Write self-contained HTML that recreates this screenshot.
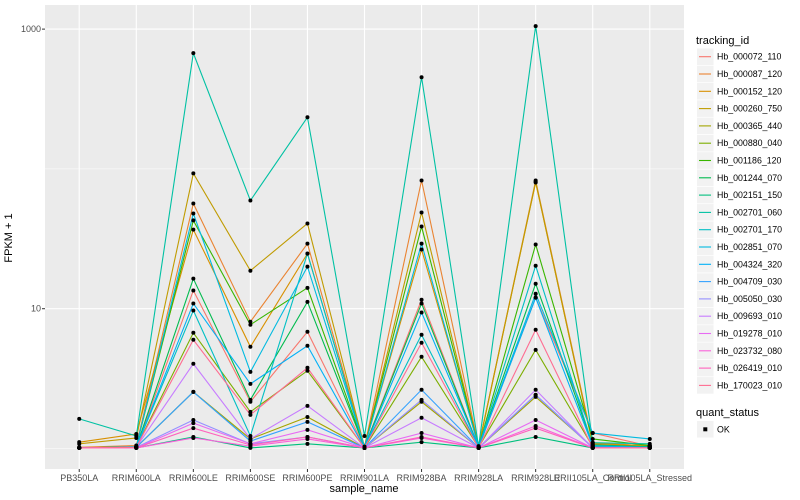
<!DOCTYPE html>
<html><head><meta charset="utf-8"><style>
body{margin:0;background:#fff;}
svg{display:block;font-family:"Liberation Sans",Arial,sans-serif;}
</style></head><body>
<svg id="chart" width="800" height="500" viewBox="0 0 800 500">
<rect x="45" y="5" width="639" height="464" fill="#EBEBEB"/>
<g id="grid"></g>
<g id="series"></g>
<g id="points"></g>
<g id="axes"></g>
<text x="12" y="238" transform="rotate(-90 12 238)" text-anchor="middle" font-size="11" fill="#000">FPKM + 1</text>
<text x="364" y="492" text-anchor="middle" font-size="11" fill="#000">sample_name</text>
<g id="legend"></g>
</svg>
<script>
const samples = ["PB350LA","RRIM600LA","RRIM600LE","RRIM600SE","RRIM600PE","RRIM901LA","RRIM928BA","RRIM928LA","RRIM928LE","RRII105LA_Control","RRII105LA_Stressed"];
const seriesNames = ["Hb_000072_110","Hb_000087_120","Hb_000152_120","Hb_000260_750","Hb_000365_440","Hb_000880_040","Hb_001186_120","Hb_001244_070","Hb_002151_150","Hb_002701_060","Hb_002701_170","Hb_002851_070","Hb_004324_320","Hb_004709_030","Hb_005050_030","Hb_009693_010","Hb_019278_010","Hb_023732_080","Hb_026419_010","Hb_170023_010"];
const seriesColors = ["#F8766D","#EA8331","#D89000","#C09B00","#A3A500","#7CAE00","#39B600","#00BB4E","#00BF7D","#00C1A3","#00BFC4","#00BAE0","#00B0F6","#35A2FF","#9590FF","#C77CFF","#E76BF3","#FA62DB","#FF62BC","#FF6C91"];
const s000072 = [1.01,1.02,13.5,2.16,6.84,1.02,11.6,1.02,12.0,1.29,1.04];
const s000087 = [1.02,1.05,56.6,8.07,29.2,1.03,82.7,1.03,82.7,1.10,1.04];
const s000152 = [1.11,1.27,36.8,5.34,24.8,1.03,26.5,1.04,80.0,1.08,1.05];
const s000260 = [1.08,1.19,92.9,18.7,40.7,1.02,48.8,1.02,81.0,1.06,1.03];
const s000365 = [1.01,1.02,2.54,1.17,1.68,1.01,2.16,1.01,2.34,1.02,1.01];
const s000880 = [1.01,1.02,6.73,1.83,3.60,1.01,4.53,1.02,5.08,1.03,1.02];
const s001186 = [1.01,1.03,42.8,7.68,14.1,1.02,38.7,1.02,28.8,1.17,1.05];
const s001244 = [1.01,1.02,16.4,2.23,11.2,1.02,10.9,1.02,15.1,1.06,1.03];
const s002151 = [1.01,1.01,1.21,1.01,1.08,1.01,1.11,1.01,1.21,1.01,1.01];
const s002701a = [1.63,1.23,673,59.4,234,1.23,453,1.03,1051,1.10,1.08];
const s002701b = [1.01,1.02,9.7,1.23,24.8,1.02,6.51,1.02,20.3,1.05,1.02];
const s002851 = [1.01,1.03,48.0,3.53,20.0,1.02,29.2,1.02,12.8,1.29,1.17];
const s004324 = [1.01,1.02,10.9,2.90,5.43,1.01,9.4,1.02,12.0,1.04,1.02];
const s004709 = [1.01,1.02,2.54,1.13,1.55,1.01,2.63,1.01,2.42,1.02,1.01];
const s005050 = [1.01,1.02,1.60,1.08,1.21,1.01,2.23,1.01,2.42,1.01,1.01];
const s009693 = [1.01,1.02,4.04,1.17,2.02,1.01,1.66,1.01,2.63,1.01,1.01];
const s019278 = [1.01,1.01,1.52,1.08,1.36,1.01,1.29,1.01,1.60,1.01,1.01];
const s023732 = [1.01,1.01,1.19,1.04,1.17,1.01,1.19,1.01,1.45,1.01,1.01];
const s026419 = [1.01,1.01,1.40,1.06,1.21,1.01,1.21,1.01,1.40,1.01,1.01];
const s170023 = [1.01,1.02,6.0,1.74,3.78,1.01,5.71,1.01,7.07,1.01,1.01];
const seriesValues = [s000072,s000087,s000152,s000260,s000365,s000880,s001186,s001244,s002151,s002701a,s002701b,s002851,s004324,s004709,s005050,s009693,s019278,s023732,s026419,s170023];
const yTickValues = [10,1000];
const yTickLabels = ["10","1000"];
const yMinorValues = [1,100];

const NS="http://www.w3.org/2000/svg";
const X0=45,X1=684,Y0=5,Y1=469;
const xStep=(X1-X0)/(samples.length-1+1.2);
function xPos(i){return X0+(0.6+i)*xStep;}
const allVals=seriesValues.flat();
const lmin=Math.log10(Math.min(...allVals)), lmax=Math.log10(Math.max(...allVals));
const pad=(lmax-lmin)*0.05;
function yPos(v){const l=Math.log10(v);return Y1-(l-(lmin-pad))/((lmax+pad)-(lmin-pad))*(Y1-Y0);}
function mk(tag,attrs,parent){const e=document.createElementNS(NS,tag);for(const k in attrs)e.setAttribute(k,attrs[k]);parent.appendChild(e);return e;}
const grid=document.getElementById('grid'),ser=document.getElementById('series'),pts=document.getElementById('points'),axes=document.getElementById('axes'),leg=document.getElementById('legend');
yMinorValues.forEach(v=>{const y=yPos(v);const l=mk('line',{x1:X0,x2:X1,y1:y,y2:y,stroke:'#fff','stroke-width':0.55},grid);

});
yTickValues.forEach((v,i)=>{const y=yPos(v);const l=mk('line',{x1:X0,x2:X1,y1:y,y2:y,stroke:'#fff','stroke-width':1.1},grid);


const t=mk('line',{x1:X0-3,x2:X0,y1:y,y2:y,stroke:'#333','stroke-width':1},axes);


const tx=mk('text',{x:X0-4,y:y+3,'text-anchor':'end','font-size':9,fill:'#4D4D4D'},axes);tx.textContent=yTickLabels[i];

});
samples.forEach((s,i)=>{const x=xPos(i);const l=mk('line',{x1:x,x2:x,y1:Y0,y2:Y1,stroke:'#fff','stroke-width':1.1},grid);


const t=mk('line',{x1:x,x2:x,y1:Y1,y2:Y1+3,stroke:'#333','stroke-width':1},axes);


const tx=mk('text',{x:x,y:Y1+12,'text-anchor':'middle','font-size':9,fill:'#4D4D4D'},axes);tx.textContent=s;

});
seriesValues.forEach((vals,si)=>{const d=vals.map((v,i)=>(i?'L':'M')+xPos(i).toFixed(2)+' '+yPos(v).toFixed(2)).join(' ');
const p=mk('path',{d:d,fill:'none',stroke:seriesColors[si],'stroke-width':1.1},ser);


vals.forEach((v,i)=>{const c=mk('circle',{cx:xPos(i),cy:yPos(v),r:2,fill:'#000'},pts);

});});
// legend
const lt=mk('text',{x:696,y:44,'font-size':11,fill:'#000'},leg);lt.textContent='tracking_id';


seriesNames.forEach((n,i)=>{const cy=56.7+i*17.3;
const g=mk('g',{},leg);


mk('rect',{x:697,y:cy-8.3,width:16.6,height:16.6,fill:'#F2F2F2'},g);
mk('line',{x1:699,x2:711,y1:cy,y2:cy,stroke:seriesColors[i],'stroke-width':1.1},g);
const t=mk('text',{x:717,y:cy+3,'font-size':8.8,fill:'#000'},g);t.textContent=n;});
const qt=mk('text',{x:696,y:416,'font-size':11,fill:'#000'},leg);qt.textContent='quant_status';


const qg=mk('g',{},leg);


mk('rect',{x:697,y:421,width:16.6,height:16.6,fill:'#F2F2F2'},qg);
mk('rect',{x:703.3,y:427.3,width:4,height:4,fill:'#000'},qg);
const ok=mk('text',{x:717,y:432.5,'font-size':8.8,fill:'#000'},qg);ok.textContent='OK';
</script>
</body></html>
